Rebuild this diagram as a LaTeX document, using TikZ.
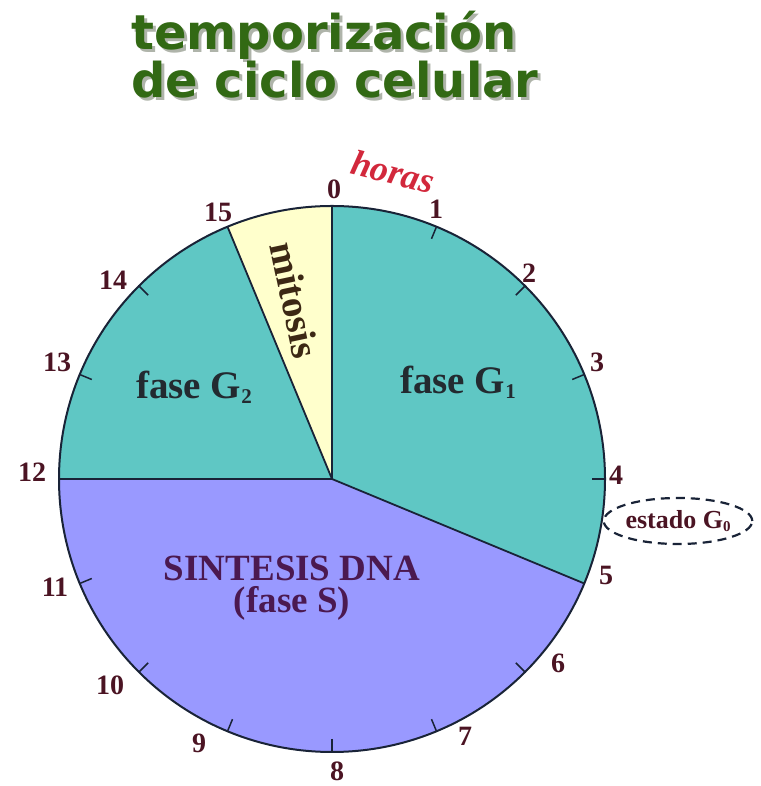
\documentclass[tikz,border=0pt]{standalone}
\usepackage{fontspec}
\setmainfont{Liberation Serif}
\newfontfamily\titlefont{DejaVu Sans}
\usetikzlibrary{calc,shapes.geometric}
\definecolor{tealf}{RGB}{95,199,196}
\definecolor{sfill}{RGB}{153,153,255}
\definecolor{mitf}{RGB}{255,255,204}
\definecolor{edgec}{RGB}{25,35,55}
\definecolor{numc}{RGB}{75,20,35}
\definecolor{horasc}{RGB}{210,40,60}
\definecolor{titleg}{RGB}{50,105,20}
\definecolor{shadowc}{RGB}{175,180,170}
\definecolor{phasec}{RGB}{35,42,48}
\definecolor{sc}{RGB}{75,25,80}
\definecolor{mitc}{RGB}{60,40,20}
\newcommand{\smallsub}[1]{\raisebox{-0.12em}{\fontsize{21}{21}\selectfont #1}}
\newcommand{\shadowed}[1]{\makebox[0pt][l]{\hspace{3pt}\raisebox{-3pt}{\color{shadowc}#1}}#1}
\begin{document}
\begin{tikzpicture}[x=1pt,y=1pt,
  num/.style={font=\fontsize{28}{28}\selectfont\bfseries, text=numc, inner sep=0pt},
  phase/.style={font=\fontsize{39}{40}\selectfont\bfseries, text=phasec, inner sep=0pt},
  titletext/.style={font=\titlefont\fontsize{48}{48}\selectfont\bfseries, text=titleg, anchor=base west, inner sep=0pt},
  divline/.style={draw=edgec, line width=1.8pt},
  tickline/.style={draw=edgec, line width=1.5pt}]
\useasboundingbox (0,0) rectangle (760,786);
\def\R{273pt}
\coordinate (C) at (332,307);
% sectors
\fill[tealf] (C) -- ($(C)+(90:\R)$) arc[start angle=90,end angle=-22.5,radius=\R] -- cycle;
\fill[sfill] (C) -- ($(C)+(-22.5:\R)$) arc[start angle=-22.5,end angle=-180,radius=\R] -- cycle;
\fill[tealf] (C) -- ($(C)+(180:\R)$) arc[start angle=180,end angle=112.5,radius=\R] -- cycle;
\fill[mitf] (C) -- ($(C)+(112.5:\R)$) arc[start angle=112.5,end angle=90,radius=\R] -- cycle;
% boundary points
\coordinate (b0) at ($(C)+(90:\R)$);
\coordinate (b5) at ($(C)+(-22.5:\R)$);
\coordinate (b12) at ($(C)+(180:\R)$);
\coordinate (b15) at ($(C)+(112.5:\R)$);
\draw[divline] (C) -- (b0);
\draw[divline] (C) -- (b5);
\draw[divline] (C) -- (b12);
\draw[divline] (C) -- (b15);
% ticks
\foreach \h in {1,2,3,4,6,7,8,9,10,11,13,14}
  \draw[tickline] ($(C)+({90-22.5*\h}:260pt)$) -- ($(C)+({90-22.5*\h}:\R)$);
\draw[draw=edgec, line width=2pt] (C) circle[radius=\R];
% hour labels
\node[num] (n0) at (334,597) {0};
\node[num] (n1) at (436,577) {1};
\node[num] (n2) at (529,513) {2};
\node[num] (n3) at (597,424) {3};
\node[num] (n4) at (616,311) {4};
\node[num] (n5) at (606,211) {5};
\node[num] (n6) at (558,123) {6};
\node[num] (n7) at (465,50) {7};
\node[num] (n8) at (337,15) {8};
\node[num] (n9) at (199,43) {9};
\node[num] (n10) at (110,101) {10};
\node[num] (n11) at (55,199) {11};
\node[num] (n12) at (32,314) {12};
\node[num] (n13) at (57,424) {13};
\node[num] (n14) at (113,506) {14};
\node[num] (n15) at (218,574) {15};
% horas
\node[font=\fontsize{36}{36}\selectfont\bfseries\itshape, text=horasc, rotate=-14, inner sep=0pt] (horas) at (393,614) {horas};
% phase labels
\node[phase] (g1) at (458,404) {fase G\smallsub{1}};
\node[phase] (g2) at (194,399) {fase G\smallsub{2}};
\node[phase, text=mitc, rotate=-78] (mit) at (295,486) {mitosis};
\node[font=\fontsize{37}{32}\selectfont\bfseries, text=sc, align=center, inner sep=0pt] (sphase) at (292,198) {SINTESIS DNA\\(fase S)};
% G0
\node[draw=edgec, dash pattern=on 9pt off 6pt, line width=2.2pt, ellipse, minimum width=130pt, minimum height=46pt, inner sep=0pt, font=\fontsize{26}{26}\selectfont\bfseries, text=numc] (g0) at (678,265) {estado G{\raisebox{-0.1em}{\fontsize{15}{15}\selectfont 0}}};
% title
\node[titletext] (t1) at (131,736) {\shadowed{temporización}};
\node[titletext] (t2) at (131,688) {\shadowed{de ciclo celular}};
\end{tikzpicture}
\end{document}
